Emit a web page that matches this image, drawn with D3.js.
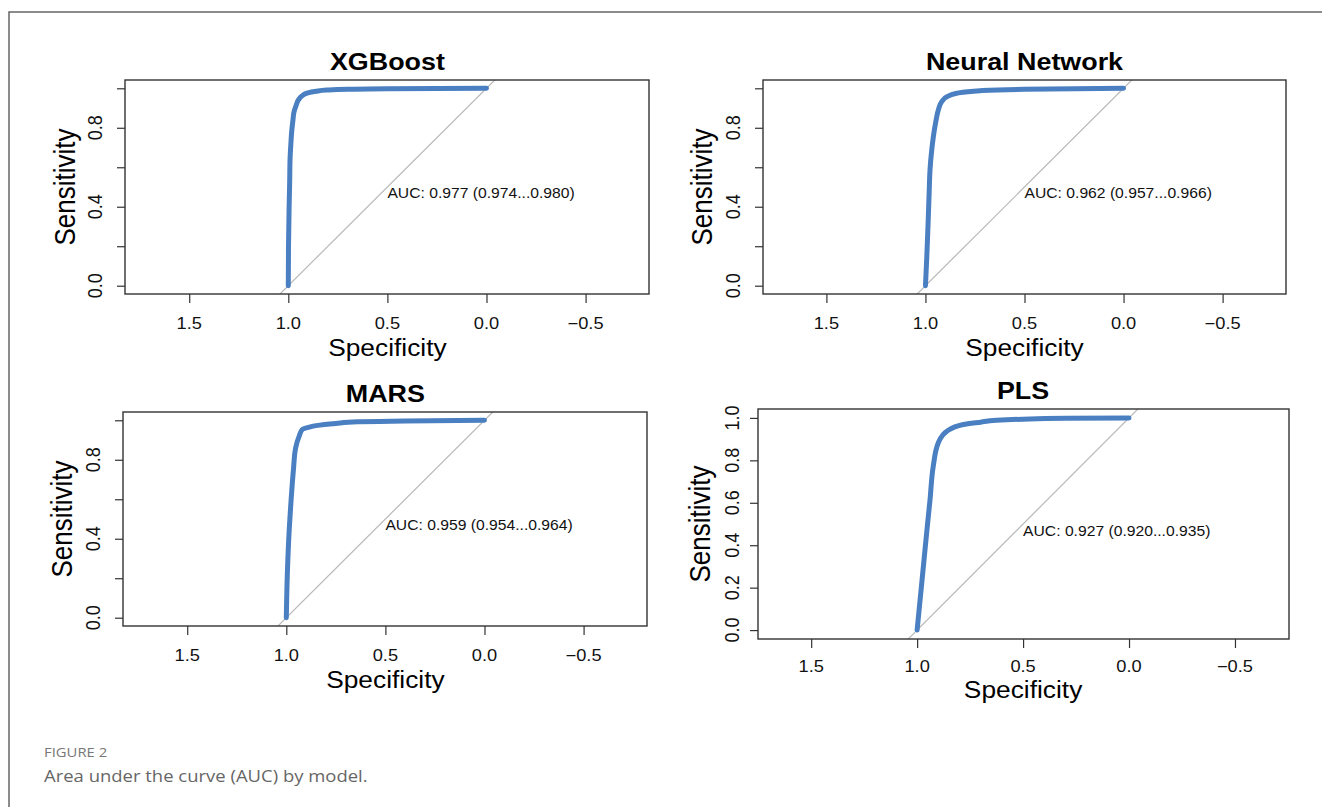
<!DOCTYPE html>
<html>
<head>
<meta charset="utf-8">
<script src="https://cdn.jsdelivr.net/npm/d3@7"></script>
<style>
  body { margin: 0; background: #fff; }
  svg { display: block; }
</style>
</head>
<body>
<svg id="fig" width="1322" height="807"></svg>
<script>
// ------------------
// Data
// ------------------
const models = ['XGBoost', 'Neural Network', 'MARS', 'PLS']
const aucLabels = [
  'AUC: 0.977 (0.974...0.980)',
  'AUC: 0.962 (0.957...0.966)',
  'AUC: 0.959 (0.954...0.964)',
  'AUC: 0.927 (0.920...0.935)'
]

const xgbSpec = [1.0, 0.999, 0.996, 0.993, 0.991, 0.987, 0.983, 0.977, 0.971, 0.96, 0.949, 0.93, 0.907, 0.86, 0.806, 0.7, 0.5, 0.0]
const xgbSens = [0.0, 0.2, 0.392, 0.53, 0.645, 0.72, 0.78, 0.835, 0.881, 0.915, 0.941, 0.962, 0.975, 0.985, 0.991, 0.995, 0.998, 1.0]

const nnSpec = [1.0, 0.993, 0.986, 0.981, 0.977, 0.968, 0.96, 0.948, 0.935, 0.918, 0.89, 0.842, 0.724, 0.5, 0.25, 0.0]
const nnSens = [0.0, 0.15, 0.333, 0.48, 0.586, 0.69, 0.755, 0.83, 0.89, 0.932, 0.958, 0.975, 0.988, 0.995, 0.998, 1.0]

const marsSpec = [1.0, 0.994, 0.985, 0.979, 0.964, 0.953, 0.935, 0.92, 0.885, 0.85, 0.75, 0.64, 0.4, 0.0]
const marsSens = [0.0, 0.245, 0.45, 0.548, 0.75, 0.86, 0.92, 0.953, 0.965, 0.973, 0.984, 0.992, 0.997, 1.0]

const plsSpec = [1.0, 0.978, 0.955, 0.939, 0.924, 0.9, 0.88, 0.86, 0.782, 0.7, 0.625, 0.5, 0.3, 0.0]
const plsSens = [0.0, 0.223, 0.459, 0.616, 0.772, 0.883, 0.918, 0.937, 0.969, 0.98, 0.989, 0.994, 0.998, 1.0]

const specSeries = [xgbSpec, nnSpec, marsSpec, plsSpec]
const sensSeries = [xgbSens, nnSens, marsSens, plsSens]

const xTicks = [1.5, 1.0, 0.5, 0.0, -0.5]
const yTicks = [0, 0.2, 0.4, 0.6, 0.8, 1.0]
const yLabelSets = [[0, 0.4, 0.8], [0, 0.4, 0.8], [0, 0.4, 0.8], [0, 0.2, 0.4, 0.6, 0.8, 1.0]]

// ------------------
// Layout
// ------------------
const boxes = [
  { left: 125, right: 649, top: 80, bottom: 294, xd: [1.824, -0.82], yLab: 30, sLab: 60 },
  { left: 763, right: 1286, top: 80, bottom: 294, xd: [1.82, -0.82], yLab: 29.5, sLab: 61 },
  { left: 123, right: 647, top: 412, bottom: 626, xd: [1.824, -0.82], yLab: 29.5, sLab: 61.5 },
  { left: 758, right: 1289, top: 409, bottom: 639, xd: [1.751, -0.755], yLab: 26, sLab: 58 }
]

const svg = d3.select('#fig')
const font = "'Liberation Sans', Arial, Helvetica, sans-serif"
const SX = 1.12 // source image is a bit stretched horizontally

function label(parent, x, y, str, size, opts = {}) {
  const sx = opts.sx || SX
  const rot = opts.rotate ? ' rotate(-90)' : ''
  return parent.append('text')
    .attr('transform', `translate(${x},${y}) scale(${sx},1)${rot}`)
    .attr('text-anchor', opts.anchor || 'middle')
    .attr('dominant-baseline', 'central')
    .attr('font-family', opts.family || font)
    .attr('font-size', size)
    .attr('font-weight', opts.bold ? 'bold' : 'normal')
    .attr('fill', opts.fill || '#111')
    .text(str)
}

// page frame (top + left rule)
svg.append('path')
  .attr('d', 'M9,807 V12 H1322')
  .attr('fill', 'none')
  .attr('stroke', '#666')
  .attr('stroke-width', 1.5)

const fmt = d3.format('.1f')
const fmtX = v => (v < 0 ? '\u2212' + fmt(-v) : fmt(v))

models.forEach((name, i) => {
  const b = boxes[i]
  const x = d3.scaleLinear().domain(b.xd).range([b.left, b.right])
  const y = d3.scaleLinear().domain([-0.042, 1.042]).range([b.bottom, b.top])
  const g = svg.append('g')

  // clip for the reference diagonal
  const clipId = `clip${i}`
  svg.append('clipPath').attr('id', clipId)
    .append('rect')
    .attr('x', b.left).attr('y', b.top)
    .attr('width', b.right - b.left).attr('height', b.bottom - b.top)

  // diagonal (abline)
  g.append('line')
    .attr('clip-path', `url(#${clipId})`)
    .attr('x1', x(1.1)).attr('y1', y(-0.1))
    .attr('x2', x(-0.1)).attr('y2', y(1.1))
    .attr('stroke', '#b8b8b8')
    .attr('stroke-width', 1.2)

  // x axis (ticks only, labels drawn separately)
  const xAxis = g.append('g')
    .attr('transform', `translate(0,${b.bottom})`)
    .call(d3.axisBottom(x).tickValues(xTicks).tickSize(9).tickFormat(''))
  xAxis.select('.domain').remove()
  xAxis.selectAll('line').attr('stroke', '#333').attr('stroke-width', 1.2)
  xTicks.forEach(v => label(g, x(v), b.bottom + (i === 3 ? 27 : 29), fmtX(v), 16.3))

  // y axis
  const yAxis = g.append('g')
    .attr('transform', `translate(${b.left},0)`)
    .call(d3.axisLeft(y).tickValues(yTicks).tickSize(8).tickFormat(''))
  yAxis.select('.domain').remove()
  yAxis.selectAll('line').attr('stroke', '#333').attr('stroke-width', 1.2)
  yLabelSets[i].forEach(v => label(g, b.left - b.yLab, y(v), fmt(v), 18, { rotate: true, sx: 1.08 }))

  // plot box
  g.append('rect')
    .attr('x', b.left).attr('y', b.top)
    .attr('width', b.right - b.left).attr('height', b.bottom - b.top)
    .attr('fill', 'none')
    .attr('stroke', '#333')
    .attr('stroke-width', 1.4)

  // ROC curve
  const pts = specSeries[i].map((s, k) => [s, sensSeries[i][k]])
  const line = d3.line()
    .x(d => x(d[0]))
    .y(d => y(d[1]))
    .curve(d3.curveMonotoneY)
  g.append('path')
    .datum(pts)
    .attr('d', line)
    .attr('fill', 'none')
    .attr('stroke', '#4a7fc1')
    .attr('stroke-width', 5)
    .attr('stroke-linejoin', 'round')
    .attr('stroke-linecap', 'round')

  // AUC label
  label(g, x(0.5), y(0.466), aucLabels[i], 14, { anchor: 'start' })

  // title + axis titles
  label(g, x(0.5), b.top - 18, name, 24, { bold: true, fill: '#000' })
  label(g, x(0.5), b.bottom + (i === 3 ? 51 : 54), 'Specificity', 23.5, { fill: '#000' })
  label(g, b.left - b.sLab, (b.top + b.bottom) / 2, 'Sensitivity', 26, { rotate: true, fill: '#000' })
})

// ------------------
// Caption
// ------------------
const capFont = "'Open Sans', sans-serif"
label(svg, 44, 752, 'FIGURE 2', 13.5, { anchor: 'start', family: capFont, fill: '#777', sx: 1.1 })
label(svg, 44, 775, 'Area under the curve (AUC) by model.', 16.5, { anchor: 'start', family: capFont, fill: '#666' })
</script>
</body>
</html>
